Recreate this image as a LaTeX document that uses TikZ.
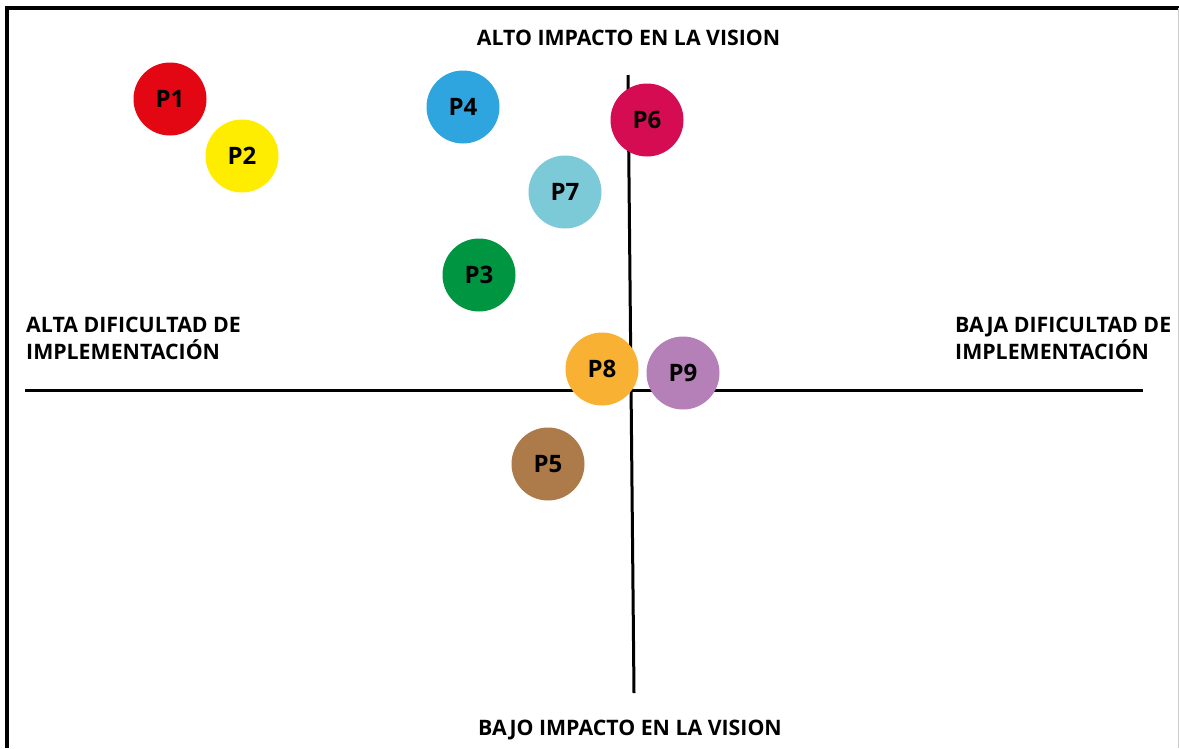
\documentclass[tikz,border=0pt]{standalone}
\usepackage{fontspec}
\setmainfont{Open Sans}
\definecolor{cP1}{HTML}{E30613}
\definecolor{cP2}{HTML}{FFED00}
\definecolor{cP3}{HTML}{009540}
\definecolor{cP4}{HTML}{2FA5DF}
\definecolor{cP5}{HTML}{AD7B4A}
\definecolor{cP6}{HTML}{D60C52}
\definecolor{cP7}{HTML}{7CCAD7}
\definecolor{cP8}{HTML}{F8B133}
\definecolor{cP9}{HTML}{B57FB7}
\begin{document}
\begin{tikzpicture}[x=1pt,y=-1pt,
  bubble/.style={circle,minimum size=73pt,inner sep=0pt,
    font=\bfseries\fontsize{24}{26}\selectfont},
  axislabel/.style={inner sep=0pt,align=left,
    font=\bfseries\fontsize{21.3}{27}\selectfont},
  axisline/.style={line width=3pt}]
\useasboundingbox (0,0) rectangle (1179,748);
\fill[white] (0,0) rectangle (1179,748);
% frame
\draw[line width=4pt] (7,748) -- (7,8) -- (1179,8);
\draw[gray!40,line width=1pt] (1178,8) -- (1178,748);
% axes
\coordinate (xl) at (25,390);
\coordinate (xr) at (1143,390);
\coordinate (yt) at (628,75);
\coordinate (yb) at (634,693);
\draw[axisline] (xl) -- (xr);
\draw[axisline] (yt) -- (yb);
% axis labels
\node[axislabel,anchor=base] (top) at (628.5,45) {ALTO IMPACTO EN LA VISION};
\node[axislabel,anchor=base] (bottom) at (630,735) {BAJO IMPACTO EN LA VISION};
\node[axislabel,anchor=north west] (left) at (26,317) {ALTA DIFICULTAD DE\\IMPLEMENTACIÓN};
\node[axislabel,anchor=north west] (right) at (955,317) {BAJA DIFICULTAD DE\\IMPLEMENTACIÓN};
% projects
\node[bubble,fill=cP1] (p1) at (170,99) {P1};
\node[bubble,fill=cP2] (p2) at (242,156) {P2};
\node[bubble,fill=cP4] (p4) at (463,107) {P4};
\node[bubble,fill=cP6] (p6) at (647,120) {P6};
\node[bubble,fill=cP7] (p7) at (565,192) {P7};
\node[bubble,fill=cP3] (p3) at (479,275) {P3};
\node[bubble,fill=cP8] (p8) at (602,369) {P8};
\node[bubble,fill=cP9] (p9) at (683,373) {P9};
\node[bubble,fill=cP5] (p5) at (548,464) {P5};
\end{tikzpicture}
\end{document}
